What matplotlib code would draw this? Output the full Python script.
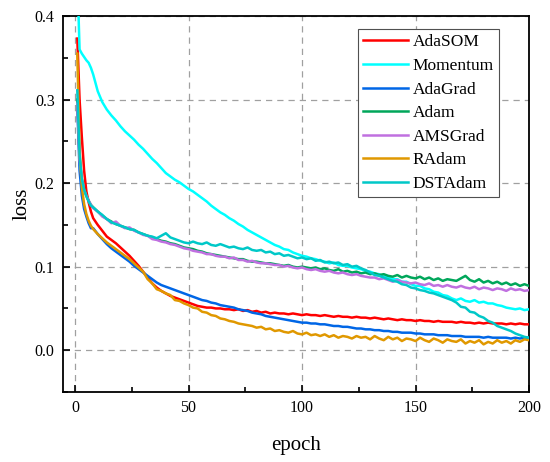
import matplotlib
matplotlib.use('Agg')
import matplotlib.pyplot as plt
from matplotlib.ticker import MultipleLocator, FormatStrFormatter

plt.rcParams['font.family'] = ['Liberation Serif', 'DejaVu Serif']

# epochs: 1..7 then every second epoch up to 200
epochs = list(range(1, 8)) + list(range(8, 201, 2))

adasom = [0.373, 0.300, 0.255, 0.215, 0.190, 0.177, 0.166,
          0.158, 0.150, 0.143, 0.136, 0.132, 0.128, 0.123, 0.118, 0.113, 0.107,
          0.101, 0.094, 0.087, 0.080, 0.075, 0.071, 0.068, 0.065, 0.063, 0.061,
          0.059, 0.057, 0.055, 0.053, 0.052, 0.051, 0.051, 0.050, 0.050, 0.049,
          0.049, 0.048, 0.049, 0.047, 0.048, 0.046, 0.047, 0.045, 0.046, 0.044,
          0.045, 0.044, 0.044, 0.043, 0.044, 0.043, 0.042, 0.043, 0.042, 0.042,
          0.041, 0.042, 0.041, 0.040, 0.041, 0.040, 0.040, 0.039, 0.040, 0.039,
          0.039, 0.038, 0.039, 0.038, 0.037, 0.038, 0.037, 0.036, 0.037, 0.036,
          0.036, 0.035, 0.036, 0.035, 0.035, 0.034, 0.035, 0.034, 0.034, 0.034,
          0.033, 0.034, 0.033, 0.033, 0.032, 0.033, 0.032, 0.033, 0.032, 0.032,
          0.032, 0.031, 0.032, 0.031, 0.032, 0.031, 0.031]

momentum = [0.450, 0.360, 0.355, 0.351, 0.347, 0.344, 0.338,
            0.330, 0.310, 0.297, 0.288, 0.281, 0.275, 0.268, 0.262, 0.257, 0.252,
            0.246, 0.241, 0.235, 0.229, 0.224, 0.218, 0.212, 0.208, 0.204, 0.201,
            0.197, 0.193, 0.190, 0.186, 0.182, 0.178, 0.173, 0.169, 0.165, 0.162,
            0.158, 0.155, 0.151, 0.148, 0.144, 0.141, 0.138, 0.135, 0.132, 0.129,
            0.126, 0.124, 0.121, 0.120, 0.117, 0.115, 0.113, 0.112, 0.110, 0.109,
            0.107, 0.106, 0.104, 0.105, 0.102, 0.101, 0.101, 0.099, 0.098, 0.097,
            0.095, 0.094, 0.092, 0.091, 0.088, 0.088, 0.085, 0.085, 0.082, 0.082,
            0.079, 0.077, 0.077, 0.074, 0.073, 0.070, 0.069, 0.066, 0.065, 0.062,
            0.060, 0.062, 0.059, 0.058, 0.060, 0.057, 0.058, 0.056, 0.056, 0.054,
            0.053, 0.051, 0.050, 0.049, 0.050, 0.048, 0.049]

adagrad = [0.292, 0.215, 0.185, 0.169, 0.160, 0.152, 0.146,
           0.146, 0.139, 0.133, 0.127, 0.122, 0.118, 0.114, 0.110, 0.106, 0.101,
           0.097, 0.093, 0.089, 0.085, 0.081, 0.078, 0.076, 0.074, 0.072, 0.070,
           0.068, 0.066, 0.064, 0.062, 0.060, 0.059, 0.057, 0.056, 0.054, 0.053,
           0.052, 0.051, 0.049, 0.048, 0.047, 0.045, 0.044, 0.043, 0.041, 0.040,
           0.039, 0.038, 0.037, 0.036, 0.035, 0.034, 0.033, 0.033, 0.032, 0.032,
           0.031, 0.031, 0.030, 0.029, 0.029, 0.028, 0.028, 0.027, 0.026, 0.026,
           0.025, 0.025, 0.024, 0.024, 0.023, 0.023, 0.022, 0.022, 0.021, 0.021,
           0.021, 0.020, 0.020, 0.019, 0.019, 0.019, 0.018, 0.018, 0.018, 0.017,
           0.017, 0.017, 0.016, 0.016, 0.016, 0.016, 0.015, 0.016, 0.015, 0.015,
           0.015, 0.015, 0.014, 0.015, 0.014, 0.015, 0.015]

adam = [0.300, 0.230, 0.205, 0.193, 0.185, 0.179, 0.174,
        0.171, 0.166, 0.161, 0.157, 0.154, 0.151, 0.149, 0.147, 0.145, 0.144,
        0.141, 0.139, 0.137, 0.135, 0.133, 0.131, 0.130, 0.128, 0.127, 0.125,
        0.123, 0.122, 0.121, 0.119, 0.118, 0.116, 0.115, 0.114, 0.113, 0.112,
        0.111, 0.110, 0.109, 0.109, 0.107, 0.106, 0.106, 0.105, 0.104, 0.104,
        0.103, 0.102, 0.101, 0.102, 0.100, 0.099, 0.100, 0.099, 0.098, 0.099,
        0.097, 0.098, 0.096, 0.095, 0.097, 0.094, 0.095, 0.093, 0.094, 0.092,
        0.093, 0.091, 0.092, 0.090, 0.091, 0.089, 0.088, 0.090, 0.087, 0.089,
        0.087, 0.086, 0.088, 0.085, 0.087, 0.084, 0.086, 0.083, 0.085, 0.084,
        0.083, 0.086, 0.089, 0.084, 0.082, 0.085, 0.081, 0.083, 0.080, 0.082,
        0.079, 0.081, 0.078, 0.080, 0.077, 0.079, 0.077]

amsgrad = [0.295, 0.228, 0.204, 0.192, 0.185, 0.179, 0.174,
           0.170, 0.166, 0.160, 0.157, 0.152, 0.154, 0.149, 0.146, 0.147, 0.143,
           0.141, 0.138, 0.137, 0.133, 0.132, 0.130, 0.129, 0.127, 0.126, 0.124,
           0.122, 0.121, 0.119, 0.118, 0.117, 0.115, 0.115, 0.113, 0.112, 0.112,
           0.110, 0.111, 0.108, 0.108, 0.106, 0.107, 0.105, 0.104, 0.104, 0.103,
           0.102, 0.102, 0.100, 0.101, 0.099, 0.098, 0.099, 0.097, 0.096, 0.097,
           0.095, 0.094, 0.095, 0.093, 0.092, 0.093, 0.091, 0.090, 0.091, 0.089,
           0.088, 0.087, 0.087, 0.085, 0.086, 0.084, 0.082, 0.084, 0.082, 0.081,
           0.080, 0.081, 0.079, 0.078, 0.080, 0.077, 0.078, 0.076, 0.078, 0.076,
           0.075, 0.077, 0.075, 0.074, 0.076, 0.073, 0.075, 0.074, 0.072, 0.074,
           0.073, 0.071, 0.074, 0.072, 0.073, 0.071, 0.072]

radam = [0.355, 0.240, 0.195, 0.175, 0.163, 0.155, 0.149,
         0.145, 0.139, 0.134, 0.129, 0.125, 0.121, 0.117, 0.113, 0.109, 0.104,
         0.099, 0.094, 0.085, 0.080, 0.073, 0.071, 0.068, 0.066, 0.060, 0.059,
         0.056, 0.054, 0.051, 0.050, 0.046, 0.045, 0.042, 0.041, 0.038, 0.037,
         0.035, 0.034, 0.032, 0.031, 0.030, 0.029, 0.027, 0.028, 0.025, 0.026,
         0.023, 0.024, 0.022, 0.021, 0.023, 0.020, 0.019, 0.021, 0.018, 0.019,
         0.017, 0.019, 0.016, 0.018, 0.015, 0.017, 0.016, 0.014, 0.017, 0.015,
         0.016, 0.013, 0.017, 0.014, 0.012, 0.016, 0.013, 0.015, 0.011, 0.014,
         0.013, 0.011, 0.015, 0.012, 0.010, 0.014, 0.012, 0.009, 0.013, 0.011,
         0.010, 0.013, 0.008, 0.011, 0.009, 0.012, 0.007, 0.010, 0.008, 0.012,
         0.009, 0.011, 0.008, 0.012, 0.010, 0.013, 0.012]

dstadam = [0.311, 0.235, 0.205, 0.192, 0.184, 0.178, 0.173,
           0.171, 0.166, 0.162, 0.157, 0.153, 0.151, 0.149, 0.147, 0.145, 0.144,
           0.141, 0.139, 0.137, 0.136, 0.134, 0.137, 0.140, 0.135, 0.133, 0.131,
           0.129, 0.128, 0.130, 0.128, 0.127, 0.129, 0.126, 0.125, 0.127, 0.125,
           0.123, 0.124, 0.122, 0.121, 0.123, 0.120, 0.119, 0.120, 0.117, 0.118,
           0.115, 0.116, 0.113, 0.114, 0.112, 0.110, 0.111, 0.109, 0.110, 0.107,
           0.108, 0.105, 0.106, 0.104, 0.105, 0.102, 0.103, 0.100, 0.101, 0.098,
           0.096, 0.093, 0.090, 0.089, 0.087, 0.085, 0.083, 0.082, 0.079, 0.078,
           0.075, 0.074, 0.072, 0.071, 0.069, 0.068, 0.066, 0.064, 0.062, 0.060,
           0.057, 0.052, 0.051, 0.046, 0.045, 0.041, 0.039, 0.035, 0.033, 0.029,
           0.027, 0.025, 0.023, 0.020, 0.018, 0.016, 0.015]

names = ['AdaSOM', 'Momentum', 'AdaGrad', 'Adam', 'AMSGrad', 'RAdam', 'DSTAdam']
series = [adasom, momentum, adagrad, adam, amsgrad, radam, dstadam]
colors = ['#ff0000', '#00ffff', '#0066e6', '#00a65a', '#c070e0', '#e09800', '#00c8c8']

fig = plt.figure(figsize=(5.5, 4.62), dpi=100)
ax = fig.add_axes([63 / 550, 70 / 462, 466 / 550, 376 / 462])

for name, vals, c in zip(names, series, colors):
    ax.plot(epochs, vals, color=c, lw=1.8, label=name, zorder=3)

ax.set_xlim(-5.3, 200)
ax.set_ylim(-0.05, 0.4)
ax.xaxis.set_major_locator(MultipleLocator(50))
ax.xaxis.set_minor_locator(MultipleLocator(25))
ax.yaxis.set_major_locator(MultipleLocator(0.1))
ax.yaxis.set_minor_locator(MultipleLocator(0.05))
ax.yaxis.set_major_formatter(FormatStrFormatter('%.1f'))
ax.tick_params(which='both', direction='in', top=False, right=False, labelsize=11.5, width=1.2)
ax.tick_params(which='major', length=5, pad=6)
ax.tick_params(which='minor', length=3.5)
ax.grid(True, which='major', color='#a0a0a0', ls=(0, (5, 4)), lw=0.9, zorder=0)
for s in ax.spines.values():
    s.set_linewidth(1.3)

ax.set_xlabel('epoch', fontsize=15, labelpad=14)
ax.set_ylabel('loss', fontsize=15, labelpad=2)

leg = ax.legend(loc='upper right', bbox_to_anchor=(0.9356, 0.9654), borderaxespad=0,
                fontsize=12.5, fancybox=False, edgecolor='#505050', framealpha=1,
                handlelength=2.6, handletextpad=0.25, labelspacing=0.43, borderpad=0.3)
leg.get_frame().set_linewidth(0.8)

fig.savefig('out.png', dpi=100)
